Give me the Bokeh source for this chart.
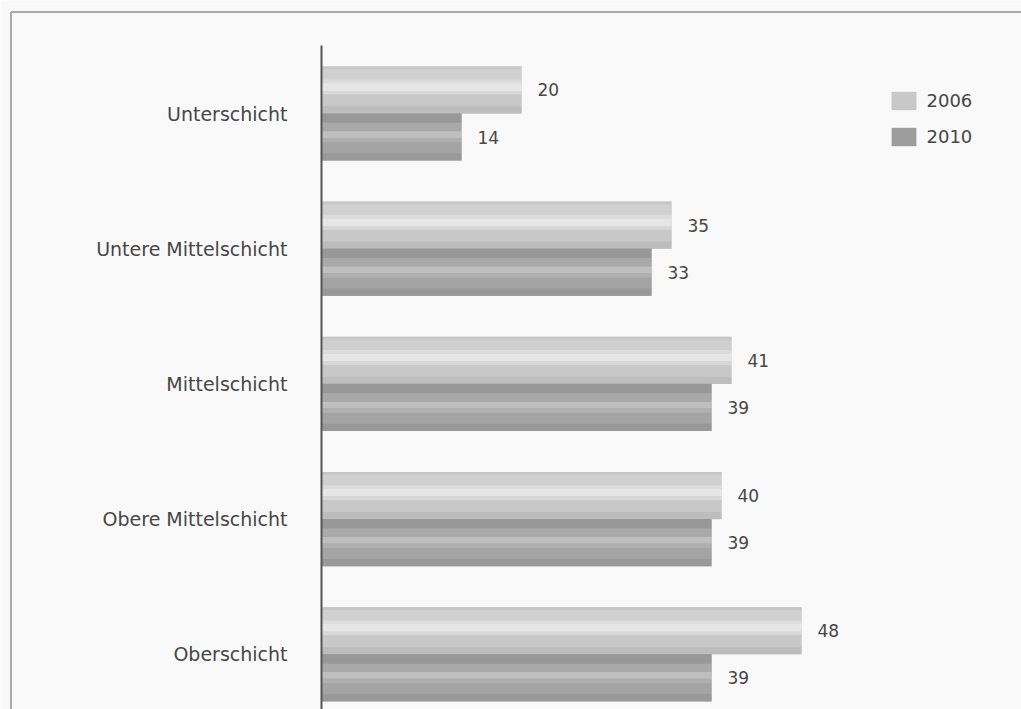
from bokeh.plotting import figure
from bokeh.models import Range1d, ColumnDataSource, Legend, LegendItem
from bokeh.transform import dodge
from bokeh.embed import file_html
from bokeh.resources import INLINE
from bokeh.core.properties import value

categories = ["Unterschicht", "Untere Mittelschicht", "Mittelschicht",
              "Obere Mittelschicht", "Oberschicht"]
years = ["2006", "2010"]
values_2006 = [20, 35, 41, 40, 48]
values_2010 = [14, 33, 39, 39, 39]

positions = [-i for i in range(len(categories))]
src = ColumnDataSource(dict(
    cat=categories, pos=positions,
    v2006=values_2006, v2010=values_2010,
    t2006=[str(v) for v in values_2006], t2010=[str(v) for v in values_2010],
))

W, H = 1021, 709
PX_PER_UNIT_X = 10.0
ZERO_X = 321.0
PX_PER_UNIT_Y = 135.2
TOP_CENTER = 113.0

x0 = -ZERO_X / PX_PER_UNIT_X
x1 = x0 + W / PX_PER_UNIT_X
y_end = TOP_CENTER / PX_PER_UNIT_Y
y_start = y_end - H / PX_PER_UNIT_Y

p = figure(width=W, height=H, output_backend="svg", toolbar_location=None,
           x_range=Range1d(x0, x1), y_range=Range1d(y_start, y_end),
           min_border=0, min_border_left=0, min_border_right=0,
           min_border_top=0, min_border_bottom=0)
p.axis.visible = False
p.grid.visible = False
p.outline_line_color = None
p.background_fill_color = "#f9f9f9"
p.border_fill_color = "#f9f9f9"

BH = 0.348
OFF = BH / 2
FONT_NAME = "DejaVu Sans"
FONT = value(FONT_NAME)
TXT = "#464646"

# shading stripes (fraction from top, fraction to, colour) - pure styling
shade_2006 = [(0.00, 0.06, "#c6c6c6"), (0.06, 0.28, "#d0d0d0"), (0.28, 0.36, "#dcdcdc"),
              (0.36, 0.52, "#e6e6e6"), (0.52, 0.60, "#d8d8d8"), (0.60, 0.85, "#c8c8c8"),
              (0.85, 1.00, "#bdbdbd")]
shade_2010 = [(0.00, 0.20, "#989898"), (0.20, 0.38, "#a9a9a9"), (0.38, 0.52, "#bfbfbf"),
              (0.52, 0.62, "#afafaf"), (0.62, 0.85, "#a4a4a4"), (0.85, 1.00, "#999999")]

r06 = p.hbar(y=dodge("pos", OFF), left=0, right="v2006", height=BH, source=src,
             fill_color="#c8c8c8", line_color=None)
for a, b, c in shade_2006:
    p.hbar(y=dodge("pos", OFF + BH / 2 - BH * (a + b) / 2), left=0, right="v2006",
           height=BH * (b - a) * 1.02, source=src, fill_color=c, line_color=None)

r10 = p.hbar(y=dodge("pos", -OFF), left=0, right="v2010", height=BH, source=src,
             fill_color="#9c9c9c", line_color=None)
for a, b, c in shade_2010:
    p.hbar(y=dodge("pos", -OFF + BH / 2 - BH * (a + b) / 2), left=0, right="v2010",
           height=BH * (b - a) * 1.02, source=src, fill_color=c, line_color=None)

# value labels
p.text(x="v2006", y=dodge("pos", OFF), text="t2006", source=src, x_offset=16,
       text_align="left", text_baseline="middle", text_font=FONT,
       text_font_size="17px", text_color=TXT)
p.text(x="v2010", y=dodge("pos", -OFF), text="t2010", source=src, x_offset=16,
       text_align="left", text_baseline="middle", text_font=FONT,
       text_font_size="17px", text_color=TXT)

# category labels
p.text(x=0, y="pos", text="cat", source=src, x_offset=-34,
       text_align="right", text_baseline="middle", text_font=FONT,
       text_font_size="19px", text_color=TXT)

# vertical axis line
p.segment(x0=0, y0=y_end - 45 / PX_PER_UNIT_Y, x1=0, y1=y_start,
          line_color="#555555", line_width=2)

# frame border (top and left), meeting at the corner
bx = x0 + 10.5 / PX_PER_UNIT_X
by = y_end - 11.5 / PX_PER_UNIT_Y
p.segment(x0=[bx, bx], y0=[by, by], x1=[x1, bx], y1=[by, y_start],
          line_color="#a8a8a8", line_width=2)

legend = Legend(items=[LegendItem(label=years[0], renderers=[r06]),
                       LegendItem(label=years[1], renderers=[r10])],
                location=(887.5, H - 88.5 - 59), orientation="vertical",
                glyph_width=31, glyph_height=23, label_height=23,
                spacing=13, padding=0, margin=0, label_standoff=8,
                label_text_font=FONT_NAME, label_text_font_size="18px",
                label_text_color=TXT, border_line_color=None,
                background_fill_alpha=0)
p.add_layout(legend)

open("out.html", "w").write(file_html(p, INLINE))
